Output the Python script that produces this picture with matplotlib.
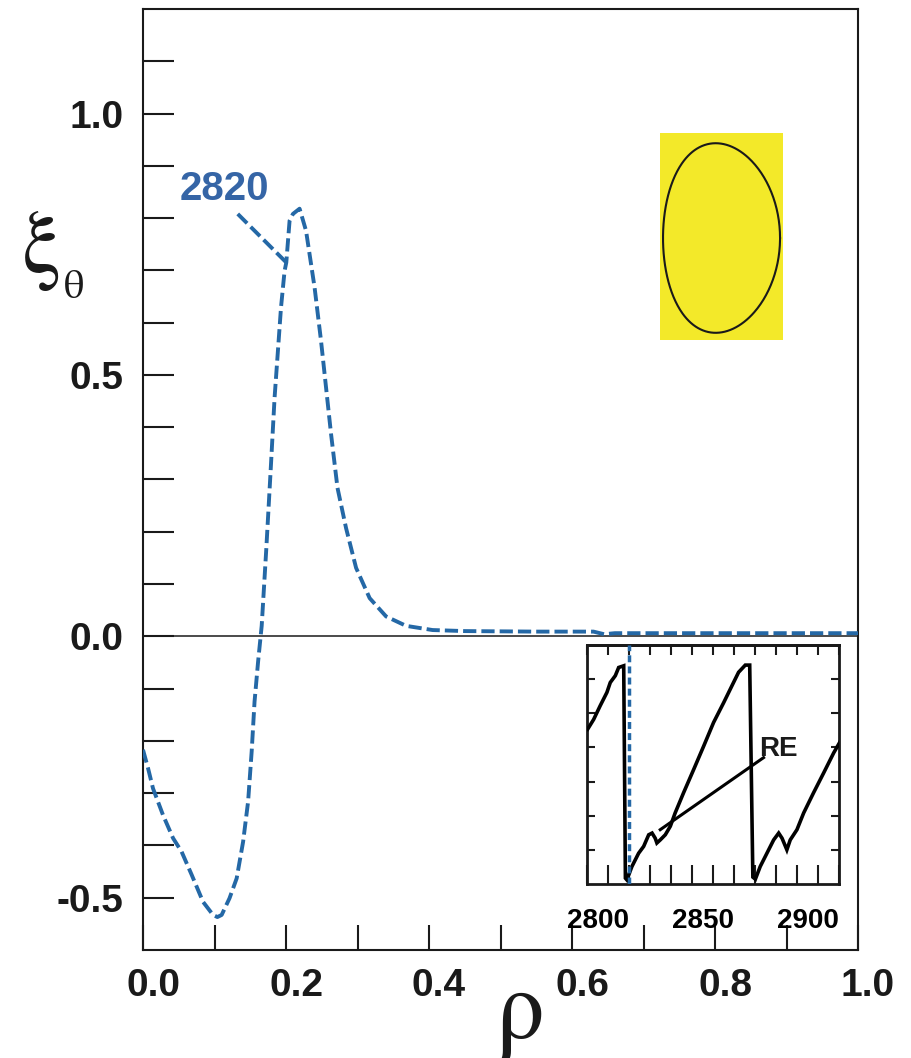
import matplotlib
matplotlib.use("Agg")
import matplotlib.pyplot as plt
import matplotlib.transforms as mtransforms
from matplotlib.ticker import MultipleLocator, NullFormatter
import numpy as np

# --- radial displacement profile xi_theta(rho) at t = 2820 ---
rho = [0.000, 0.007, 0.014, 0.028, 0.042, 0.054, 0.068, 0.084, 0.098, 0.104,
       0.110, 0.121, 0.131, 0.140, 0.147, 0.152, 0.156, 0.161, 0.166, 0.1725,
       0.179, 0.184, 0.189, 0.193, 0.198, 0.2004, 0.205, 0.2097, 0.219, 0.228,
       0.240, 0.249, 0.256, 0.263, 0.272, 0.284, 0.298, 0.317, 0.340, 0.368,
       0.405, 0.450, 0.550, 0.630, 0.645, 0.660, 0.800, 1.000]
xi_theta = [-0.217, -0.252, -0.291, -0.342, -0.386, -0.412, -0.456, -0.508, -0.533, -0.537,
            -0.533, -0.501, -0.463, -0.393, -0.316, -0.220, -0.125, -0.048, 0.020, 0.169,
            0.329, 0.456, 0.552, 0.629, 0.699, 0.715, 0.795, 0.808, 0.818, 0.776,
            0.667, 0.565, 0.476, 0.387, 0.284, 0.207, 0.131, 0.073, 0.038, 0.020,
            0.012, 0.010, 0.009, 0.009, 0.004, 0.006, 0.006, 0.006]

profile_label = "2820"
profile_label_pos = (0.1144, 0.856)
leader_rho = [0.1325, 0.2008]
leader_xi = [0.808, 0.7146]

# --- time trace shown in the inset ---
t_ms = [2800.3, 2803.2, 2806.3, 2809.5, 2811.1, 2813.5, 2815.1, 2817.5, 2818.3, 2819.0,
        2821.4, 2824.6, 2827.0, 2829.4, 2831.0, 2832.5, 2833.3, 2834.9, 2837.3, 2839.7,
        2842.0, 2846.0, 2850.8, 2855.6, 2860.3, 2865.1, 2869.0, 2872.2, 2875.4, 2877.5,
        2879.0, 2880.2, 2882.5, 2885.7, 2888.9, 2891.3, 2892.9, 2895.2, 2896.8, 2900.0,
        2903.2, 2907.9, 2912.7, 2917.5, 2920.3]
signal = [4.53, 4.82, 5.22, 5.61, 5.90, 6.10, 6.34, 6.39, 0.17, 0.12,
          0.51, 0.90, 1.10, 1.44, 1.49, 1.34, 1.20, 1.29, 1.44, 1.69,
          2.08, 2.67, 3.35, 4.04, 4.73, 5.31, 5.80, 6.20, 6.41, 6.41,
          0.20, 0.14, 0.51, 0.90, 1.29, 1.49, 1.34, 1.00, 1.29, 1.59,
          2.08, 2.67, 3.25, 3.84, 4.14]
t_marker = 2820
re_label = "RE"
re_label_pos = (2882.0, 3.74)
re_leader_t = [2834.9, 2884.1]
re_leader_v = [1.59, 3.70]

# --- axis ticks ---
x_major = [0.0, 0.2, 0.4, 0.6, 0.8, 1.0]
x_major_labels = ["0.0", "0.2", "0.4", "0.6", "0.8", "1.0"]
x_minor = [0.1, 0.3, 0.5, 0.7, 0.9]
y_major = [-0.5, 0.0, 0.5, 1.0]
y_major_labels = ["-0.5", "0.0", "0.5", "1.0"]
y_minor = [-0.4, -0.3, -0.2, -0.1, 0.1, 0.2, 0.3, 0.4, 0.6, 0.7, 0.8, 0.9, 1.1]
inset_major = [2800, 2850, 2900]
inset_major_labels = ["2800", "2850", "2900"]
inset_yticks = [1, 2, 3, 4, 5, 6]

# plasma cross-section shape: elongation and triangularity
kappa = 1.62
delta = 0.10

BLUE = "#2468a6"
LABEL_BLUE = "#3565a6"
INK = "#1a1a1a"
YELLOW = "#f3e929"
SERIF = ["STIXGeneral", "Liberation Serif", "DejaVu Serif"]

plt.rcParams["axes.unicode_minus"] = False
plt.rcParams["font.family"] = ["Liberation Sans", "DejaVu Sans"]

fig = plt.figure(figsize=(9.12, 10.58), dpi=100)

# ---------------- main axes ----------------
ax = fig.add_axes([0.1568, 0.1021, 0.784, 0.8894])
dash = (0, (3.4, 1.3))
ax.plot(rho, xi_theta, color=BLUE, lw=2.8, linestyle=dash, zorder=3)
ax.plot(leader_rho, leader_xi, color=BLUE, lw=2.8, linestyle=dash, zorder=3)
ax.text(*profile_label_pos, profile_label, color=LABEL_BLUE, fontsize=29,
        fontweight="bold", ha="center", va="center")
ax.axhline(0, color=INK, lw=1.1, zorder=2)

ax.set_xlim(0, 1)
ax.set_ylim(-0.6, 1.2)
ax.set_xticks(x_major)
ax.set_xticklabels(x_major_labels)
ax.set_xticks(x_minor, minor=True)
ax.set_yticks(y_major)
ax.set_yticklabels(y_major_labels)
ax.set_yticks(y_minor, minor=True)
ax.tick_params(axis="both", which="both", direction="in", width=1.5, color=INK,
               labelsize=28, labelcolor=INK)
ax.tick_params(axis="x", which="both", length=18, pad=13)
ax.tick_params(axis="y", which="both", length=22, pad=14)
for lbl in ax.get_xticklabels() + ax.get_yticklabels():
    lbl.set_fontweight("bold")
for sp in ax.spines.values():
    sp.set_linewidth(1.5)
    sp.set_color(INK)

shift_main = mtransforms.ScaledTranslation(0.10, 0, fig.dpi_scale_trans)
for lbl in ax.get_xticklabels():
    lbl.set_transform(lbl.get_transform() + shift_main)

# axis titles
fig.text(22 / 912, 1 - 272 / 1058, "ξ", family=SERIF,
         fontsize=64, ha="left", va="baseline", color=INK)
fig.text(64 / 912, 1 - 298 / 1058, "θ", family=SERIF,
         fontsize=29, ha="left", va="baseline", color=INK)
fig.text(520 / 912, 1 - 1038 / 1058, "ρ", family=SERIF,
         fontsize=70, ha="center", va="baseline", color=INK)

# ---------------- cross-section sketch ----------------
axs = fig.add_axes([0.7237, 0.6786, 0.1349, 0.1957])
axs.set_facecolor(YELLOW)
axs.set_xlim(0, 123)
axs.set_ylim(0, 207)
axs.set_xticks([])
axs.set_yticks([])
for sp in axs.spines.values():
    sp.set_visible(False)
th = np.linspace(0, 2 * np.pi, 400)
a_minor = 58.5
R = 61.5 + a_minor * np.cos(th + delta * np.sin(th))
Z = 102 + kappa * a_minor * np.sin(th)
axs.plot(R, Z, color=INK, lw=1.5)

# ---------------- inset time trace ----------------
axi = fig.add_axes([0.6436, 0.1645, 0.2763, 0.2259])
axi.plot(t_ms, signal, color="black", lw=2.6, solid_joinstyle="miter", zorder=3)
axi.axvline(t_marker, color=BLUE, lw=2.5, linestyle=(0, (2.0, 1.2)), zorder=4)
axi.plot(re_leader_t, re_leader_v, color="black", lw=2.2, zorder=3)
axi.text(*re_label_pos, re_label, fontsize=20, fontweight="bold",
         ha="left", va="baseline", color=INK)
axi.set_xlim(2800, 2920)
axi.set_ylim(0, 7)
axi.set_xticks(inset_major)
axi.set_xticklabels(inset_major_labels)
axi.xaxis.set_minor_locator(MultipleLocator(10))
axi.set_yticks(inset_yticks)
axi.yaxis.set_major_formatter(NullFormatter())
axi.tick_params(axis="x", which="both", direction="in", length=14, width=1.5,
                pad=17, labelsize=20, bottom=True, top=False, color=INK)
axi.tick_params(axis="y", which="both", direction="in", length=6, width=1.5,
                left=True, right=True, labelleft=False, color=INK)
for lbl in axi.get_xticklabels():
    lbl.set_fontweight("bold")
shift_inset = mtransforms.ScaledTranslation(0.11, 0, fig.dpi_scale_trans)
for lbl in axi.get_xticklabels():
    lbl.set_transform(lbl.get_transform() + shift_inset)
for sp in axi.spines.values():
    sp.set_linewidth(2.0)
    sp.set_color(INK)

top = axi.secondary_xaxis("top")
top.xaxis.set_major_locator(MultipleLocator(10))
top.tick_params(axis="x", which="both", direction="in", length=7, width=1.5,
                labeltop=False, color=INK)
top.spines["top"].set_linewidth(2.0)

fig.savefig("out.png", dpi=100)
